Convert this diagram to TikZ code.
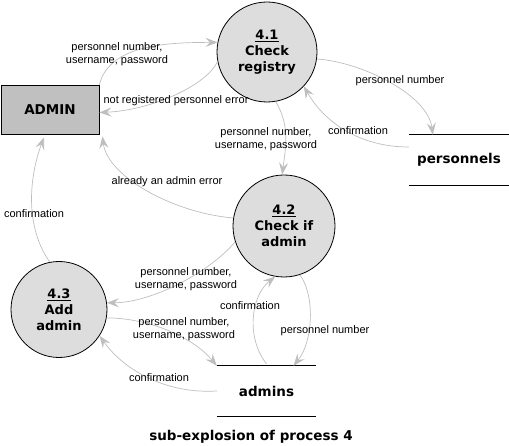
\documentclass[tikz,border=0pt]{standalone}
\usepackage{fontspec}
\setmainfont{DejaVu Sans}
\newfontfamily\lblfont{Liberation Sans}
\usetikzlibrary{arrows.meta}
\definecolor{flowgray}{RGB}{190,190,190}
\definecolor{procfill}{RGB}{221,221,221}
\definecolor{extfill}{RGB}{192,192,192}
\tikzset{
 proc/.style={circle,draw=black,line width=0.8pt,fill=procfill,inner sep=0pt,align=center,font=\fontsize{13}{16}\selectfont\bfseries},
 ext/.style={rectangle,draw=black,line width=0.8pt,fill=extfill,minimum width=98pt,minimum height=49pt,inner sep=0pt,font=\fontsize{13.5}{16}\selectfont\bfseries},
 store/.style={rectangle,inner sep=0pt,font=\fontsize{13.5}{16}\selectfont\bfseries},
 storeline/.style={draw=black,line width=0.8pt},
 flow/.style={draw=flowgray,line width=0.7pt,-{Stealth[length=12pt,width=9pt,inset=4.5pt,fill=flowgray]}},
 lbl/.style={font=\lblfont\fontsize{11}{13}\selectfont,align=center,inner sep=0pt},
}
\begin{document}
\begin{tikzpicture}[x=1pt,y=-1pt]
\useasboundingbox (0,0) rectangle (509,446);
% nodes
\node[ext] (admin) at (50,109.5) {ADMIN};
\node[proc,minimum size=100pt] (c41) at (267,52) {\underline{4.1}\\Check\\registry};
\node[proc,minimum size=102pt] (c42) at (284,226) {\underline{4.2}\\Check if\\admin};
\node[proc,minimum size=96pt] (c43) at (59,309.5) {\underline{4.3}\\Add\\admin};
\node[store,minimum width=100pt,minimum height=50pt] (pers) at (459,160) {personnels};
\node[store,minimum width=99pt,minimum height=50pt] (adm) at (266.5,391) {admins};
\draw[storeline] (pers.north west) -- (pers.north east);
\draw[storeline] (pers.south west) -- (pers.south east);
\draw[storeline] (adm.north west) -- (adm.north east);
\draw[storeline] (adm.south west) -- (adm.south east);
\node[store] (cap) at (251,437) {sub-explosion of process 4};
% flows
\draw[flow] (admin.north east) .. controls +(10,-40) and +(-50,0) .. (c41.169);
\draw[flow] (c41.191) .. controls +(-12,25) and +(50,-2) .. ([yshift=-3pt]admin.east);
\draw[flow] (c41.-8) .. controls +(45,3) and +(-5,-40) .. ([xshift=24pt]pers.north west);
\draw[flow] ([yshift=13pt]pers.west) .. controls +(-50,0) and +(20,35) .. (c41.-43);
\draw[flow] (c41.-80) .. controls +(15,25) and +(3,-25) .. (c42.92);
\draw[flow] (c42.171) .. controls +(-60,-5) and +(5,40) .. ([xshift=3pt,yshift=-2pt]admin.south east);
\draw[flow] (c43.101) .. controls +(-25,-35) and +(-15,40) .. ([xshift=-6pt,yshift=-3pt]admin.south);
\draw[flow] (c42.198) .. controls +(-25,30) and +(45,0) .. (c43.8);
\draw[flow] (c43.-10) .. controls +(40,0) and +(-25,-30) .. (adm.north west);
\draw[flow] (adm.west) .. controls +(-50,3) and +(25,35) .. (c43.-33);
\draw[flow] ([yshift=2pt]adm.north) .. controls +(-20,-25) and +(-25,20) .. (c42.-100);
\draw[flow] (c42.-72) .. controls +(15,20) and +(20,-25) .. ([xshift=27pt]adm.north);
% labels
\node[lbl] (l1) at (117,54.5) {personnel number,\\username, password};
\node[lbl] (l2) at (176,101) {not registered personnel error};
\node[lbl] (l3) at (400,81) {personnel number};
\node[lbl] (l4) at (358,131) {confirmation};
\node[lbl] (l5) at (266,139) {personnel number,\\username, password};
\node[lbl] (l6) at (167,182) {already an admin error};
\node[lbl] (l7) at (34,214) {confirmation};
\node[lbl] (l8) at (186,279) {personnel number,\\username, password};
\node[lbl] (l9) at (184,329.5) {personnel number,\\username, password};
\node[lbl] (l10) at (159,378) {confirmation};
\node[lbl] (l11) at (250,306) {confirmation};
\node[lbl] (l12) at (325,331) {personnel number};
\end{tikzpicture}
\end{document}
